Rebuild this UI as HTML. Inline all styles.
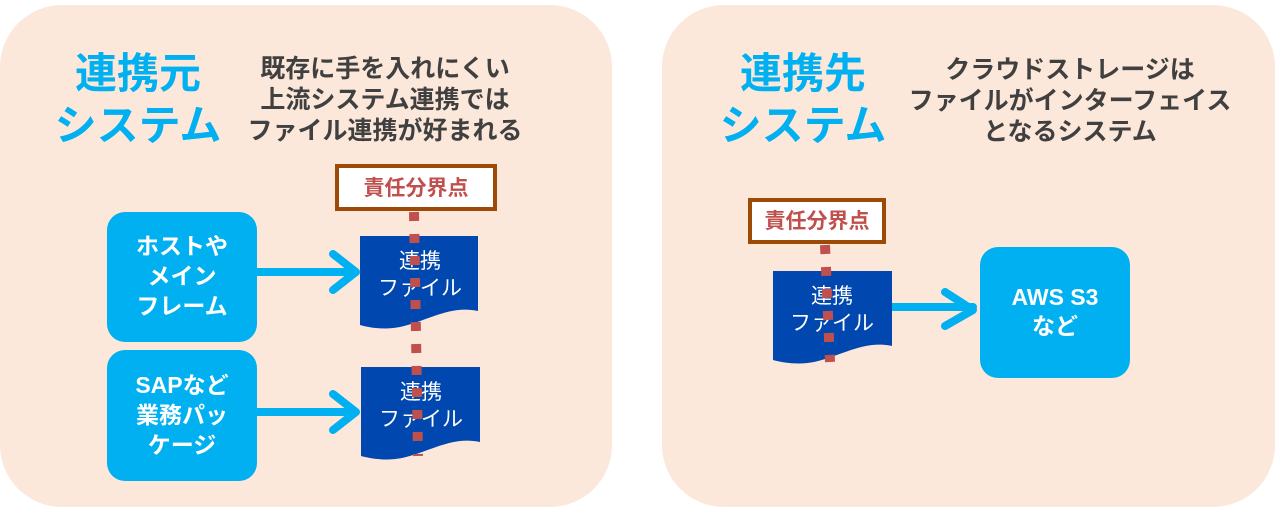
<!DOCTYPE html>
<html><head><meta charset="utf-8"><style>
html,body{margin:0;padding:0;background:#fff;}
svg{display:block;}
text{font-family:"Liberation Sans","Noto Sans CJK JP",sans-serif;}
</style></head><body>
<svg width="1278" height="512" viewBox="0 0 1278 512" xmlns="http://www.w3.org/2000/svg">
<rect x="0" y="5" width="612" height="502" rx="62" fill="#fce8da"/>
<rect x="662" y="5" width="613" height="502" rx="62" fill="#fce8da"/>

<g font-weight="bold" fill="#00b0f0" font-size="42" text-anchor="middle">
<text x="138" y="88">連携元</text>
<text x="138" y="140">システム</text>
<text x="803" y="88">連携先</text>
<text x="803" y="140">システム</text>
</g>
<g font-weight="bold" fill="#404040" font-size="25" text-anchor="middle">
<text x="385" y="77">既存に手を入れにくい</text>
<text x="385" y="108">上流システム連携では</text>
<text x="385" y="139">ファイル連携が好まれる</text>
<text x="1070" y="78">クラウドストレージは</text>
<text x="1070" y="109">ファイルがインターフェイス</text>
<text x="1070" y="140">となるシステム</text>
</g>

<rect x="107" y="212" width="150" height="130" rx="18" fill="#00b0f0"/>
<rect x="107" y="350" width="150" height="131" rx="18" fill="#00b0f0"/>
<g font-weight="bold" fill="#fff" font-size="23" text-anchor="middle">
<text x="182" y="254">ホストや</text>
<text x="182" y="284">メイン</text>
<text x="182" y="314">フレーム</text>
<text x="182" y="393">SAPなど</text>
<text x="182" y="423">業務パッ</text>
<text x="182" y="453">ケージ</text>
</g>

<g stroke="#00b0f0" stroke-width="8" fill="none" stroke-linecap="round" stroke-linejoin="round">
<line x1="257" y1="272" x2="354" y2="272"/>
<polyline points="333,254 356,272 333,290"/>
<line x1="257" y1="412" x2="354" y2="412"/>
<polyline points="333,394 356,412 333,430"/>
<line x1="890" y1="307" x2="973" y2="307"/>
<polyline points="945,292 973,310 945,326" />
</g>

<g fill="#0047b0">
<path d="M360,236 H478 V311 C450,305 430,320 400,327 C385,330 370,328 360,325 Z"/>
<path d="M361,367 H480 V442 C452,436 432,451 402,458 C387,461 372,459 361,456 Z"/>
<path d="M773,271 H892 V346 C864,340 844,355 814,362 C799,365 784,363 773,360 Z"/>
</g>
<g fill="#fff" font-size="21" text-anchor="middle">
<text x="420" y="268">連携</text>
<text x="420" y="295">ファイル</text>
<text x="421" y="399">連携</text>
<text x="421" y="426">ファイル</text>
<text x="832" y="303">連携</text>
<text x="832" y="330">ファイル</text>
</g>

<g stroke="#c0504d" stroke-width="10" stroke-dasharray="9 13">
<line x1="414" y1="212" x2="418" y2="456"/>
<line x1="825" y1="245" x2="830" y2="362"/>
</g>

<rect x="337" y="166" width="158" height="43" fill="#fff" stroke="#9c4a06" stroke-width="4"/>
<rect x="750" y="200" width="134" height="42" fill="#fff" stroke="#9c4a06" stroke-width="4"/>
<g font-weight="bold" fill="#c0504d" font-size="21" text-anchor="middle">
<text x="416" y="195">責任分界点</text>
<text x="817" y="228">責任分界点</text>
</g>

<rect x="980" y="247" width="150" height="131" rx="18" fill="#00b0f0"/>
<g font-weight="bold" fill="#fff" font-size="23" text-anchor="middle">
<text x="1055" y="305">AWS S3</text>
<text x="1055" y="334">など</text>
</g>
</svg>
</body></html>
